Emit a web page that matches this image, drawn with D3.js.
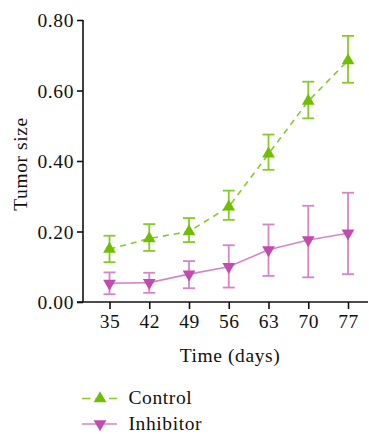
<!DOCTYPE html>
<html>
<head>
<meta charset="utf-8">
<script src="https://cdn.jsdelivr.net/npm/d3@7"></script>
<style>
  body { margin: 0; background: #fff; }
</style>
</head>
<body>
<div id="chart"></div>
<script>
// data
const days = [35, 42, 49, 56, 63, 70, 77]
const control = [0.15, 0.18, 0.20, 0.27, 0.42, 0.57, 0.685]
const controlHi = [0.188, 0.221, 0.238, 0.316, 0.475, 0.625, 0.755]
const controlLo = [0.113, 0.145, 0.170, 0.233, 0.375, 0.521, 0.622]
const inhibitor = [0.053, 0.055, 0.079, 0.100, 0.148, 0.176, 0.195]
const inhibitorHi = [0.084, 0.083, 0.116, 0.161, 0.220, 0.273, 0.310]
const inhibitorLo = [0.022, 0.026, 0.039, 0.041, 0.074, 0.070, 0.079]
const yTicks = [0, 0.2, 0.4, 0.6, 0.8]

const width = 369
const height = 434
const FONT = "'Liberation Serif', 'Times New Roman', serif"

var svg = d3.select("#chart").append("svg")
    .attr("width", width)
    .attr("height", height)

// scales
var x = d3.scalePoint().domain(days).range([109.5, 348])
var y = d3.scaleLinear().domain([0, 0.8]).range([302, 20])

// axes
var yAxis = svg.append("g")
    .attr("transform", "translate(83,0)")
    .call(d3.axisLeft(y).tickValues(yTicks).tickFormat(d3.format(".2f")).tickSize(6).tickPadding(3))
yAxis.select(".domain").attr("d", "M0," + y(0.8) + "V" + y(0))
var xAxis = svg.append("g")
    .attr("transform", "translate(0,302)")
    .call(d3.axisBottom(x).tickSize(7).tickPadding(5))
xAxis.select(".domain").attr("d", "M77,0H368")
svg.selectAll("g").attr("font-family", null)
svg.selectAll(".tick text").style("font-size", "19.5px").attr("fill", "#111")
yAxis.selectAll(".tick text").attr("dy", "0.34em")
svg.selectAll(".domain, .tick line").attr("stroke", "#111").attr("stroke-width", 1.6)

// axis titles
svg.append("text")
    .attr("transform", "translate(27,164) rotate(-90)")
    .attr("text-anchor", "middle")
    .style("font-size", "19.5px")
    .text("Tumor size")
svg.append("text")
    .attr("x", 230).attr("y", 362)
    .attr("text-anchor", "middle")
    .style("font-size", "19.5px")
    .text("Time (days)")

var series = [
    {name: "Control", vals: control, hi: controlHi, lo: controlLo,
     color: "#6fbf00", light: "#86cb2a", dash: "6,5", sym: d3.symbolTriangle, rot: 0},
    {name: "Inhibitor", vals: inhibitor, hi: inhibitorHi, lo: inhibitorLo,
     color: "#c24ab0", light: "#d785c9", dash: null, sym: d3.symbolTriangle, rot: 180}
]

var line = d3.line().x((d, i) => x(days[i])).y(d => y(d))

series.forEach(function(s){
    var g = svg.append("g")
    // error bars
    days.forEach(function(dd, i){
        var cx = x(dd)
        g.append("line").attr("x1", cx).attr("x2", cx)
            .attr("y1", y(s.hi[i])).attr("y2", y(s.lo[i]))
            .attr("stroke", s.light).attr("stroke-width", 1.8)
        ;[s.hi[i], s.lo[i]].forEach(function(v){
            g.append("line").attr("x1", cx - 6).attr("x2", cx + 6)
                .attr("y1", y(v)).attr("y2", y(v))
                .attr("stroke", s.light).attr("stroke-width", 1.8)
        })
    })
    g.append("path")
        .attr("d", line(s.vals))
        .attr("fill", "none")
        .attr("stroke", s.light)
        .attr("stroke-width", 1.6)
        .attr("stroke-dasharray", s.dash)
    g.selectAll(".pt").data(s.vals).enter().append("path")
        .attr("d", d3.symbol().type(s.sym).size(70))
        .attr("transform", (d, i) => `translate(${x(days[i])},${y(d)}) rotate(${s.rot})`)
        .attr("fill", s.color)
})

// legend
var legend = svg.append("g")
series.forEach(function(s, i){
    var ly = 398.5 + i * 25.5
    legend.append("line").attr("x1", 82).attr("x2", 117).attr("y1", ly).attr("y2", ly)
        .attr("stroke", s.light).attr("stroke-width", 1.6)
        .attr("stroke-dasharray", s.dash ? "8.5,5" : null)
    legend.append("path")
        .attr("d", d3.symbol().type(s.sym).size(70))
        .attr("transform", `translate(100,${ly}) rotate(${s.rot})`)
        .attr("fill", s.color)
    legend.append("text")
        .attr("x", 128.5).attr("y", ly + 5.5)
        .style("font-size", "19.5px")
        .text(s.name)
})

svg.selectAll("text").style("font-family", FONT).style("letter-spacing", "0.6px").attr("fill", "#111")
</script>
</body>
</html>
